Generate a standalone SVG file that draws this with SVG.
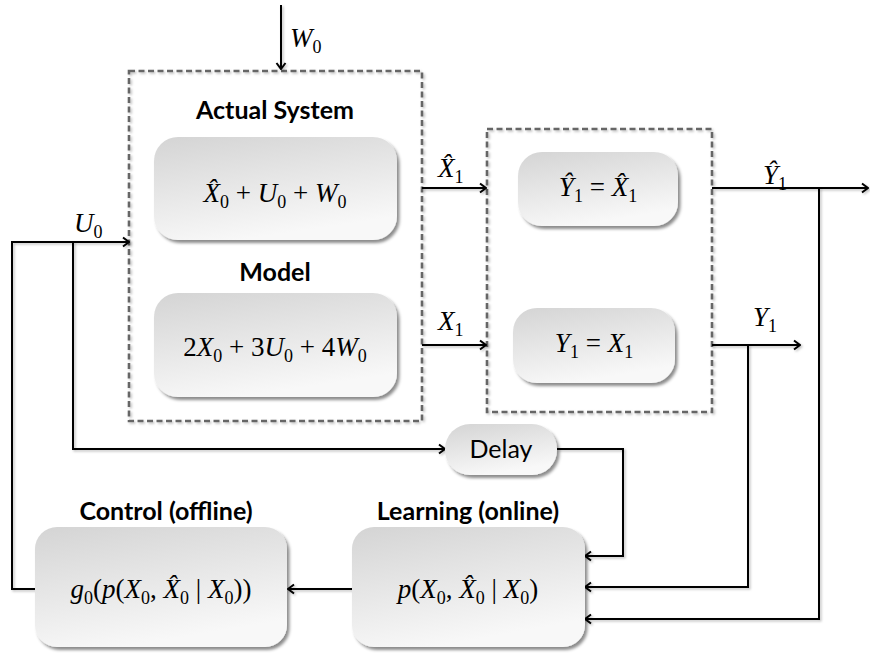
<svg xmlns="http://www.w3.org/2000/svg" width="870" height="654" viewBox="0 0 870 654">
<style>
.bg{fill:#fff}
.box{fill:url(#g);filter:url(#sh)}
.dash{fill:none;stroke:#666;stroke-width:2.6;stroke-dasharray:6 3.5;filter:url(#lsh)}
.ln{fill:none;stroke:#000;stroke-width:2;filter:url(#lsh)}
.ar{marker-end:url(#ah)}
.t{font-family:Lato,"Open Sans","Liberation Sans",sans-serif;font-weight:bold;font-size:25px;fill:#000;text-anchor:middle}
.d{font-family:Lato,"Open Sans","Liberation Sans",sans-serif;font-size:25px;fill:#000;text-anchor:middle}
.m{font-family:"Liberation Serif","DejaVu Serif",serif;font-size:27px;fill:#000}
.i{font-style:italic}
.s{font-size:18px}
</style>
<defs>
<linearGradient id="g" x1="0" y1="0" x2="0.35" y2="1">
<stop offset="0" stop-color="#d4d4d4"/>
<stop offset="1" stop-color="#f8f8f8"/>
</linearGradient>
<filter id="sh" x="-10%" y="-10%" width="130%" height="130%">
<feDropShadow dx="2.5" dy="3" stdDeviation="1.6" flood-color="#000" flood-opacity="0.45"/>
</filter>
<filter id="lsh" filterUnits="userSpaceOnUse" x="0" y="0" width="870" height="654">
<feDropShadow dx="1.5" dy="1.5" stdDeviation="1" flood-color="#000" flood-opacity="0.25"/>
</filter>
<marker id="ah" viewBox="0 0 12 12" refX="11" refY="6" markerWidth="12" markerHeight="12" markerUnits="userSpaceOnUse" orient="auto">
<path d="M5,1.5 L11,6 L5,10.5" fill="none" stroke="#000" stroke-width="2"/>
</marker>
</defs>
<rect class="bg" x="0" y="0" width="870" height="654"/>

<g id="containers">
<rect class="dash" x="129" y="71" width="293" height="350"/>
<rect class="dash" x="487" y="129" width="225" height="283"/>
</g>

<g id="connectors">
<path class="ln ar" d="M281,5 V69"/>
<path class="ln ar" d="M35,589 H12 V242 H129"/>
<path class="ln ar" d="M73,242 V449 H445"/>
<path class="ln ar" d="M422,188 H486"/>
<path class="ln ar" d="M422,345 H486"/>
<path class="ln ar" d="M712,188 H868"/>
<path class="ln ar" d="M819,188 V619 H585"/>
<path class="ln ar" d="M712,345 H800"/>
<path class="ln ar" d="M748,345 V587 H585"/>
<path class="ln ar" d="M557,449 H623 V556 H585"/>
<path class="ln ar" d="M352,589 H288"/>
</g>

<g id="labels">
<text class="m" x="290" y="47"><tspan class="i">W</tspan><tspan class="s" dy="6">0</tspan></text>
<text class="m" x="74" y="232"><tspan class="i">U</tspan><tspan class="s" dy="6">0</tspan></text>
<text class="m" x="438" y="177"><tspan class="i">X̂</tspan><tspan class="s" dy="6">1</tspan></text>
<text class="m" x="438" y="330"><tspan class="i">X</tspan><tspan class="s" dy="6">1</tspan></text>
<text class="m" x="763" y="184"><tspan class="i">Ŷ</tspan><tspan class="s" dy="6">1</tspan></text>
<text class="m" x="753" y="326"><tspan class="i">Y</tspan><tspan class="s" dy="6">1</tspan></text>
</g>

<g id="actual-system">
<text class="t" x="275" y="119">Actual System</text>
<rect class="box" x="154" y="137" width="243" height="103" rx="24"/>
<text class="m" x="275" y="202" text-anchor="middle"><tspan class="i">X̂</tspan><tspan class="s" dy="6">0</tspan><tspan dy="-6"> + </tspan><tspan class="i">U</tspan><tspan class="s" dy="6">0</tspan><tspan dy="-6"> + </tspan><tspan class="i">W</tspan><tspan class="s" dy="6">0</tspan></text>
</g>

<g id="model">
<text class="t" x="275" y="281">Model</text>
<rect class="box" x="154" y="293" width="243" height="104" rx="24"/>
<text class="m" x="275" y="356" text-anchor="middle"><tspan>2</tspan><tspan class="i">X</tspan><tspan class="s" dy="6">0</tspan><tspan dy="-6"> + 3</tspan><tspan class="i">U</tspan><tspan class="s" dy="6">0</tspan><tspan dy="-6"> + 4</tspan><tspan class="i">W</tspan><tspan class="s" dy="6">0</tspan></text>
</g>

<g id="yhat-box">
<rect class="box" x="518" y="152" width="160" height="74" rx="24"/>
<text class="m" x="598" y="196" text-anchor="middle"><tspan class="i">Ŷ</tspan><tspan class="s" dy="6">1</tspan><tspan dy="-6"> = </tspan><tspan class="i">X̂</tspan><tspan class="s" dy="6">1</tspan></text>
</g>

<g id="y-box">
<rect class="box" x="513" y="308" width="162" height="75" rx="24"/>
<text class="m" x="594" y="352" text-anchor="middle"><tspan class="i">Y</tspan><tspan class="s" dy="6">1</tspan><tspan dy="-6"> = </tspan><tspan class="i">X</tspan><tspan class="s" dy="6">1</tspan></text>
</g>

<g id="delay">
<rect class="box" x="445" y="424" width="112" height="51" rx="25"/>
<text class="d" x="501" y="458">Delay</text>
</g>

<g id="control">
<text class="t" x="166" y="520">Control (offline)</text>
<rect class="box" x="35" y="527" width="252" height="120" rx="22"/>
<text class="m" x="161" y="598" text-anchor="middle"><tspan class="i">g</tspan><tspan class="s" dy="6">0</tspan><tspan dy="-6">(</tspan><tspan class="i">p</tspan><tspan>(</tspan><tspan class="i">X</tspan><tspan class="s" dy="6">0</tspan><tspan dy="-6">, </tspan><tspan class="i">X̂</tspan><tspan class="s" dy="6">0</tspan><tspan dy="-6"> | </tspan><tspan class="i">X</tspan><tspan class="s" dy="6">0</tspan><tspan dy="-6">))</tspan></text>
</g>

<g id="learning">
<text class="t" x="468" y="520">Learning (online)</text>
<rect class="box" x="352" y="527" width="233" height="120" rx="22"/>
<text class="m" x="468" y="598" text-anchor="middle"><tspan class="i">p</tspan><tspan>(</tspan><tspan class="i">X</tspan><tspan class="s" dy="6">0</tspan><tspan dy="-6">, </tspan><tspan class="i">X̂</tspan><tspan class="s" dy="6">0</tspan><tspan dy="-6"> | </tspan><tspan class="i">X</tspan><tspan class="s" dy="6">0</tspan><tspan dy="-6">)</tspan></text>
</g>
</svg>
